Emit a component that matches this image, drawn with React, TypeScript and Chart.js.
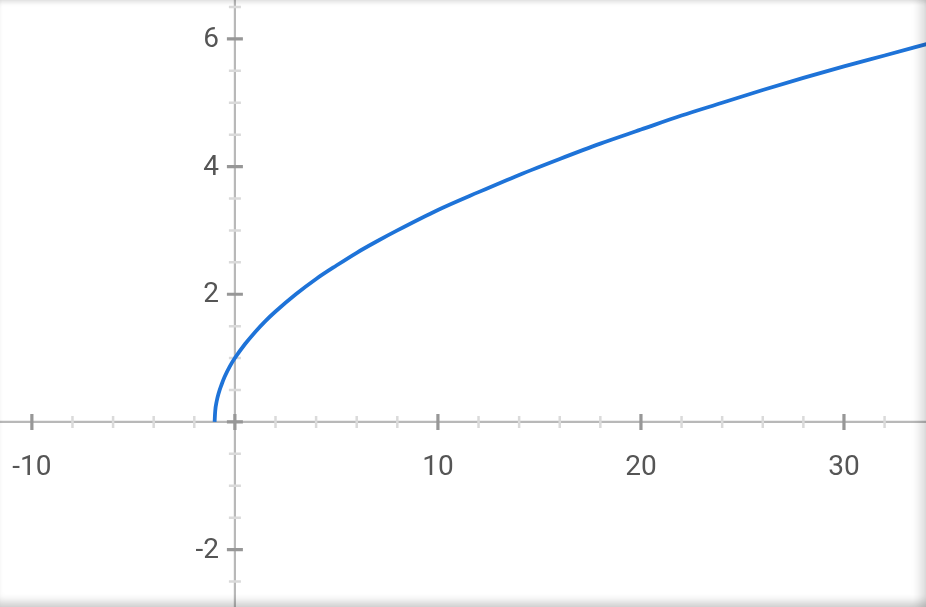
import React, { useEffect, useRef } from "react";
import { Chart, registerables } from "chart.js";

Chart.register(...registerables);

// Curve
const curveX = [-1, -0.97, -0.9, -0.8, -0.65, -0.5, -0.25, 0, 0.5, 1, 1.5, 2, 3, 4, 5, 6, 7, 8, 10, 12, 14, 16, 18, 20, 22, 24, 26, 28, 30, 32, 34.2];
const curveY = [0, 0.17, 0.32, 0.45, 0.59, 0.71, 0.87, 1, 1.22, 1.41, 1.58, 1.73, 2, 2.24, 2.45, 2.65, 2.83, 3, 3.32, 3.6, 3.87, 4.12, 4.36, 4.58, 4.8, 5, 5.2, 5.39, 5.57, 5.74, 5.93];

// Axis ranges
const xRange = [-11.57, 34.04];
const yRange = [-2.9, 6.61];

// Ticks and labels
const xMajorTicks = [-10, 0, 10, 20, 30];
const xMinorTicks = [-8, -6, -4, -2, 2, 4, 6, 8, 12, 14, 16, 18, 22, 24, 26, 28, 32];
const xLabelValues = [-10, 10, 20, 30];
const xLabels = ["-10", "10", "20", "30"];
const yMajorTicks = [-2, 0, 2, 4, 6];
const yMinorTicks = [-2.5, -1.5, -1, -0.5, 0.5, 1, 1.5, 2.5, 3, 3.5, 4.5, 5, 5.5, 6.5];
const yLabelValues = [-2, 2, 4, 6];
const yLabels = ["-2", "2", "4", "6"];

const W = 926;
const H = 607;

const axesPlugin = {
  id: "customAxes",
  beforeDatasetsDraw(chart: any) {
    const ctx = chart.ctx as CanvasRenderingContext2D;
    const xs = chart.scales.x;
    const ys = chart.scales.y;
    const ox = xs.getPixelForValue(0);
    const oy = ys.getPixelForValue(0);
    ctx.save();
    // axis lines
    ctx.strokeStyle = "#b8b8b8";
    ctx.lineWidth = 2.2;
    ctx.beginPath();
    ctx.moveTo(0, oy);
    ctx.lineTo(W, oy);
    ctx.moveTo(ox, 0);
    ctx.lineTo(ox, H);
    ctx.stroke();

    // minor ticks
    ctx.strokeStyle = "#dadada";
    ctx.lineWidth = 2.5;
    ctx.beginPath();
    for (const v of xMinorTicks) {
      const p = xs.getPixelForValue(v);
      ctx.moveTo(p, oy - 6);
      ctx.lineTo(p, oy + 6);
    }
    for (const v of yMinorTicks) {
      const p = ys.getPixelForValue(v);
      ctx.moveTo(ox - 6, p);
      ctx.lineTo(ox + 6, p);
    }
    ctx.stroke();

    // major ticks
    ctx.strokeStyle = "#979797";
    ctx.lineWidth = 3.2;
    ctx.beginPath();
    for (const v of xMajorTicks) {
      const p = xs.getPixelForValue(v);
      ctx.moveTo(p, oy - 8);
      ctx.lineTo(p, oy + 8);
    }
    for (const v of yMajorTicks) {
      const p = ys.getPixelForValue(v);
      ctx.moveTo(ox - 8, p);
      ctx.lineTo(ox + 8, p);
    }
    ctx.stroke();

    // labels
    ctx.fillStyle = "#555555";
    ctx.font = "28px Roboto";
    ctx.textBaseline = "middle";
    ctx.textAlign = "center";
    xLabelValues.forEach((v, i) => {
      ctx.fillText(xLabels[i], xs.getPixelForValue(v), oy + 46);
    });
    ctx.textAlign = "right";
    yLabelValues.forEach((v, i) => {
      ctx.fillText(yLabels[i], ox - 16, ys.getPixelForValue(v) + 1);
    });
    ctx.restore();
  },
};

export default function App() {
  const ref = useRef<HTMLCanvasElement | null>(null);
  useEffect(() => {
    document.body.style.margin = "0";
    const canvas = ref.current;
    if (!canvas) return;
    const chart = new Chart(canvas, {
      type: "line",
      data: {
        datasets: [
          {
            data: curveX.map((x, i) => ({ x, y: curveY[i] })),
            borderColor: "#1e73d8",
            borderWidth: 3.8,
            pointRadius: 0,
            fill: false,
            cubicInterpolationMode: "monotone",
          },
        ],
      },
      options: {
        animation: false,
        responsive: false,
        devicePixelRatio: 1,
        layout: { padding: 0 },
        plugins: { legend: { display: false }, tooltip: { enabled: false } },
        scales: {
          x: { type: "linear", min: xRange[0], max: xRange[1], display: false },
          y: { type: "linear", min: yRange[0], max: yRange[1], display: false },
        },
      },
      plugins: [axesPlugin],
    } as any);
    return () => chart.destroy();
  }, []);
  return (
    <div style={{ position: "fixed", left: 0, top: 0, width: W, height: H, background: "#fff", overflow: "hidden" }}>
      <canvas ref={ref} width={W} height={H} style={{ display: "block", width: W, height: H, filter: "blur(0.5px)" }} />
      <div
        style={{
          position: "absolute",
          inset: 0,
          pointerEvents: "none",
          boxShadow:
            "inset 0 5px 5px -3px rgba(0,0,0,0.14), inset 0 -10px 8px -5px rgba(0,0,0,0.2), inset -12px 0 10px -6px rgba(0,0,0,0.14)",
        }}
      />
    </div>
  );
}
